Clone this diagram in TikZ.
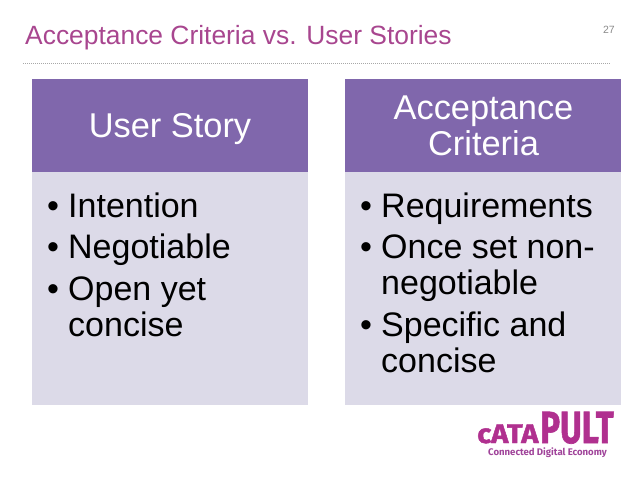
\documentclass[tikz,border=0pt]{standalone}
\usepackage{fontspec}
\setmainfont{Liberation Sans}
\newfontfamily\logofont{Fira Sans}[UprightFont=* Bold,FakeBold=1.5]
\newfontfamily\logosubfont{Fira Sans}[UprightFont=* Bold]
\definecolor{titlec}{HTML}{A8468F}
\definecolor{headc}{HTML}{8067AC}
\definecolor{bodyc}{HTML}{DCDAE8}
\definecolor{dotc}{HTML}{A8A8A8}
\definecolor{numc}{HTML}{8A8A8A}
\definecolor{logoc}{HTML}{B0308F}
\definecolor{logosub}{HTML}{A0449A}
\tikzset{
  headbox/.style={fill=headc,draw=none,anchor=north west,minimum width=276pt,minimum height=93pt,inner sep=0pt},
  bodybox/.style={fill=bodyc,draw=none,anchor=north west,minimum width=276pt,minimum height=233pt,inner sep=0pt},
  headtxt/.style={text=white,font=\fontsize{34.4}{36.5}\selectfont,align=center,inner sep=0pt},
  itemtxt/.style={text=black,font=\fontsize{34}{36}\selectfont,anchor=base west,inner sep=0pt},
}
\begin{document}
\begin{tikzpicture}[x=1pt,y=-1pt]
\useasboundingbox (0,0) rectangle (638,479);
\node[anchor=base west,inner sep=0pt,text=titlec,font=\fontsize{26.4}{28}\selectfont] (title) at (25,45) {Acceptance Criteria vs. User Stories};
\node[anchor=base east,inner sep=0pt,text=numc,font=\fontsize{10.5}{12}\selectfont] (num) at (615,33) {27};
\coordinate (dl) at (23,63.5);
\coordinate (dr) at (611,63.5);
\draw[dotc,line width=1pt,dash pattern=on 1pt off 1pt] (dl) -- (dr);
\node[headbox] (h1) at (32,79) {};
\node[bodybox] (b1) at (32,172) {};
\node[headbox] (h2) at (345,79) {};
\node[bodybox] (b2) at (345,172) {};
\node[headtxt,anchor=base] (h1t) at (170,137) {User Story};
\node[headtxt] (h2t) at (483.5,126) {Acceptance\\Criteria};
\node[itemtxt] (a1b) at (47,217) {•};
\node[itemtxt] (a1) at (68,217) {Intention};
\node[itemtxt] (a2b) at (47,258) {•};
\node[itemtxt] (a2) at (68,258) {Negotiable};
\node[itemtxt] (a3b) at (47,300) {•};
\node[itemtxt] (a3) at (68,300) {Open yet};
\node[itemtxt] (a4) at (68,336) {concise};
\node[itemtxt] (c1b) at (360,217) {•};
\node[itemtxt] (c1) at (381,217) {Requirements};
\node[itemtxt] (c2b) at (360,258) {•};
\node[itemtxt] (c2) at (381,258) {Once set non-};
\node[itemtxt] (c3) at (381,294) {negotiable};
\node[itemtxt] (c4b) at (360,336) {•};
\node[itemtxt] (c4) at (381,336) {Specific and};
\node[itemtxt] (c5) at (381,372) {concise};
\node[anchor=base west,inner sep=0pt,text=logoc,font=\logofont\fontsize{27}{28}\selectfont,xscale=1.08,text depth=0pt] (lg1) at (477,443) {cATA};
\node[anchor=base west,inner sep=0pt,text=logoc,font=\logofont\fontsize{45}{40}\selectfont,xscale=0.74,text depth=0pt] (lg2) at (540,443) {PULT};
\node[anchor=base west,inner sep=0pt,text=logosub,font=\logosubfont\fontsize{9.6}{10}\selectfont,text height=6pt] (lg3) at (488,455) {Connected Digital Economy};
\end{tikzpicture}
\end{document}
